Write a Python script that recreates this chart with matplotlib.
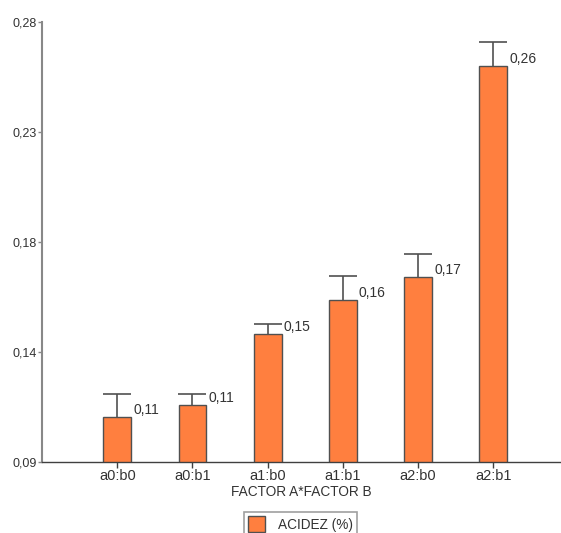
import numpy as np
import matplotlib
matplotlib.use("Agg")
import matplotlib.pyplot as plt

plt.rcParams['font.family'] = ['Liberation Sans', 'DejaVu Sans']

# medias de acidez por combinación de factores
grupos = ['a0:b0', 'a0:b1', 'a1:b0', 'a1:b1', 'a2:b0', 'a2:b1']
acidez = [0.1092, 0.1144, 0.1452, 0.1600, 0.1699, 0.2610]
error = [0.0101, 0.0049, 0.0044, 0.0101, 0.0101, 0.0103]

yticks = [0.09, 0.1375, 0.185, 0.2325, 0.28]
ytick_labels = ['0,09', '0,14', '0,18', '0,23', '0,28']

naranja = '#FF7F3F'
borde = '#505050'
texto = '#333333'

fig = plt.figure(figsize=(5.61, 5.33), dpi=100)
ax = fig.add_axes([0.075, 0.134, 0.925, 0.824])

x = np.arange(len(grupos))
ancho = 0.37
ax.bar(x, acidez, width=ancho, color=naranja, edgecolor=borde, linewidth=1.0,
       label='ACIDEZ (%)', zorder=2)
# solo el error hacia arriba
eb = ax.errorbar(x, acidez, yerr=[np.zeros(len(error)), error], fmt='none',
                 ecolor=borde, elinewidth=1.2, capsize=10, capthick=1.2, zorder=1)
eb[1][0].set_visible(False)

# etiquetas con el valor de cada barra
for xi, v in zip(x, acidez):
    ax.annotate(f'{v:.2f}'.replace('.', ','), (xi + ancho / 2, v),
                xytext=(1.5, 0), textcoords='offset points',
                ha='left', va='bottom', fontsize=10, color=texto)

ax.set_xlim(-1.0, 5.9)
ax.set_ylim(0.09, 0.28)
ax.set_yticks(yticks)
ax.set_yticklabels(ytick_labels)
ax.set_xticks(x)
ax.set_xticklabels(grupos)
ax.set_xlabel('FACTOR A*FACTOR B', fontsize=9.8, color=texto, labelpad=2)

ax.spines['top'].set_visible(False)
ax.spines['right'].set_visible(False)
ax.spines['left'].set_color('#888888')
ax.spines['left'].set_linewidth(1.5)
ax.spines['bottom'].set_color('#404040')
ax.spines['bottom'].set_linewidth(1.0)
ax.tick_params(axis='y', length=3, width=1, color='#888888',
               labelsize=9, labelcolor=texto, pad=1)
ax.tick_params(axis='x', length=4, width=1, color='#404040',
               labelsize=10.5, labelcolor=texto, pad=1)

leg = ax.legend(loc='upper center', bbox_to_anchor=(0.535, 0.04),
                bbox_transform=fig.transFigure, borderaxespad=0,
                frameon=True, fancybox=False,
                fontsize=9.8, handlelength=1.3, handleheight=1.5,
                handletextpad=0.9, borderpad=0.3)
leg.get_frame().set_edgecolor('#888888')
leg.get_frame().set_linewidth(1.2)
for t in leg.get_texts():
    t.set_color(texto)

fig.savefig('out.png', dpi=100)
